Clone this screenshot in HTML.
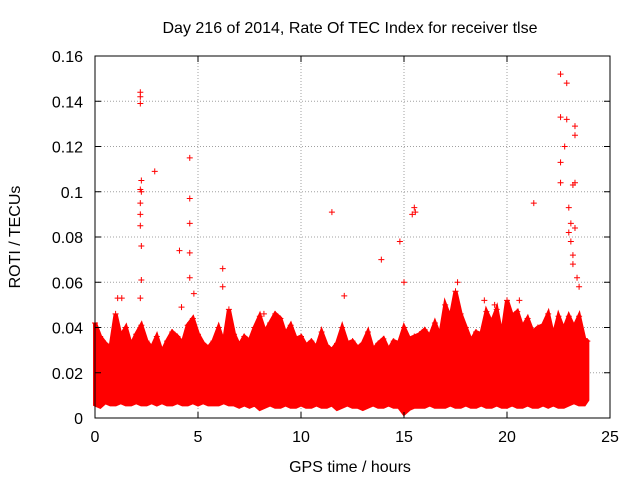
<!DOCTYPE html>
<html><head><meta charset="utf-8"><style>
body{margin:0;background:#fff}
svg{font-family:"Liberation Sans",sans-serif;font-size:16px}
</style></head><body>
<svg id="c" width="640" height="480">
<text x="350" y="33" text-anchor="middle">Day 216 of 2014, Rate Of TEC Index for receiver tlse</text>
<text x="350" y="472" text-anchor="middle">GPS time / hours</text>
<text transform="translate(20,237) rotate(-90)" text-anchor="middle">ROTI / TECUs</text>
<g id="grid"></g><g id="band"></g><g id="pts"></g><g id="axes"></g>
</svg>
<script>
const xTicks=[0,5,10,15,20,25];
const yTicks=[0,0.02,0.04,0.06,0.08,0.1,0.12,0.14,0.16];
const yTickLabels=["0","0.02","0.04","0.06","0.08","0.1","0.12","0.14","0.16"];
const bandHours=[0,0.25,0.5,0.75,1,1.25,1.5,1.75,2,2.25,2.5,2.75,3,3.25,3.5,3.75,4,4.25,4.5,4.75,5,5.25,5.5,5.75,6,6.25,6.5,6.75,7,7.25,7.5,7.75,8,8.25,8.5,8.75,9,9.25,9.5,9.75,10,10.25,10.5,10.75,11,11.25,11.5,11.75,12,12.25,12.5,12.75,13,13.25,13.5,13.75,14,14.25,14.5,14.75,15,15.25,15.5,15.75,16,16.25,16.5,16.75,17,17.25,17.5,17.75,18,18.25,18.5,18.75,19,19.25,19.5,19.75,20,20.25,20.5,20.75,21,21.25,21.5,21.75,22,22.25,22.5,22.75,23,23.25,23.5,23.75,23.9];
const bandUpper=[0.042,0.036,0.033,0.031,0.046,0.036,0.04,0.032,0.037,0.041,0.034,0.031,0.036,0.029,0.034,0.038,0.036,0.033,0.041,0.044,0.037,0.033,0.031,0.034,0.04,0.033,0.048,0.037,0.032,0.036,0.034,0.04,0.045,0.038,0.042,0.046,0.044,0.037,0.041,0.035,0.036,0.032,0.034,0.031,0.038,0.032,0.03,0.033,0.04,0.033,0.034,0.031,0.033,0.038,0.03,0.033,0.035,0.03,0.034,0.033,0.04,0.035,0.036,0.037,0.039,0.036,0.042,0.036,0.05,0.044,0.056,0.046,0.04,0.034,0.038,0.037,0.047,0.042,0.048,0.036,0.052,0.045,0.047,0.04,0.044,0.038,0.04,0.041,0.046,0.036,0.045,0.039,0.045,0.04,0.045,0.035,0.034];
const bandLower=[0.006,0.005,0.007,0.006,0.006,0.007,0.006,0.006,0.007,0.006,0.006,0.007,0.006,0.007,0.006,0.006,0.007,0.006,0.006,0.007,0.006,0.007,0.006,0.006,0.006,0.007,0.006,0.006,0.005,0.006,0.005,0.006,0.004,0.005,0.006,0.005,0.005,0.006,0.005,0.005,0.006,0.005,0.005,0.006,0.005,0.005,0.006,0.004,0.005,0.006,0.005,0.005,0.004,0.005,0.006,0.005,0.005,0.006,0.005,0.005,0.002,0.004,0.005,0.005,0.005,0.006,0.005,0.005,0.005,0.006,0.005,0.005,0.006,0.005,0.005,0.006,0.005,0.005,0.006,0.005,0.005,0.006,0.005,0.005,0.006,0.005,0.005,0.006,0.005,0.006,0.005,0.005,0.006,0.007,0.006,0.006,0.008];
const outlierHours=[2.2,2.2,2.2,2.25,2.2,2.25,2.2,2.2,2.2,2.25,2.25,2.2,2.9,4.6,4.6,4.6,4.6,4.1,4.6,4.8,6.2,6.2,11.5,13.9,14.8,15.5,15.55,15.4,21.3,22.6,22.9,22.6,22.9,23.3,23.3,22.6,22.8,22.6,23.2,23.3,23.0,23.1,23.0,23.1,23.2,23.2,23.4,23.5,23.3,1.1,1.3,12.1,17.6,20.6,4.2,8.2,18.9,19.4,15.0];
const outlierRoti=[0.144,0.142,0.139,0.105,0.101,0.1,0.095,0.09,0.085,0.076,0.061,0.053,0.109,0.115,0.097,0.086,0.073,0.074,0.062,0.055,0.066,0.058,0.091,0.07,0.078,0.093,0.091,0.09,0.095,0.152,0.148,0.133,0.132,0.129,0.125,0.113,0.12,0.104,0.103,0.104,0.093,0.086,0.082,0.078,0.072,0.068,0.062,0.058,0.084,0.053,0.053,0.054,0.06,0.052,0.049,0.046,0.052,0.05,0.06];
const X0=95,X1=610,Y0=418,Y1=56;
const xs=v=>X0+(v-0)/(25-0)*(X1-X0);
const ys=v=>Y0-(v-0)/(0.16-0)*(Y0-Y1);
const NS="http://www.w3.org/2000/svg";
function mk(t,p,a){const e=document.createElementNS(NS,t);for(const k in a)e.setAttribute(k,a[k]);p.appendChild(e);return e;}
const grid=document.getElementById('grid'),axes=document.getElementById('axes');
xTicks.forEach((t,i)=>{
 const x=xs(t);
 if(i>0&&i<xTicks.length-1){const g=mk('line',grid,{x1:x,x2:x,y1:Y0,y2:Y1,stroke:'#a0a0a0','stroke-dasharray':'1,2'});
 
 }
 mk('line',axes,{x1:x,x2:x,y1:Y0,y2:Y0-6,stroke:'#000'});mk('line',axes,{x1:x,x2:x,y1:Y1,y2:Y1+6,stroke:'#000'});
 const l=mk('text',axes,{x:x,y:Y0+24,'text-anchor':'middle'});l.textContent=t;
 
 
});
yTicks.forEach((t,i)=>{
 const y=ys(t);
 if(i>0&&i<yTicks.length-1){const g=mk('line',grid,{x1:X0,x2:X1,y1:y,y2:y,stroke:'#a0a0a0','stroke-dasharray':'1,2'});
 
 }
 mk('line',axes,{x1:X0,x2:X0+6,y1:y,y2:y,stroke:'#000'});mk('line',axes,{x1:X1,x2:X1-6,y1:y,y2:y,stroke:'#000'});
 const l=mk('text',axes,{x:X0-12,y:y+6,'text-anchor':'end'});l.textContent=yTickLabels[i];
 
 
});
const fr=mk('rect',axes,{x:X0,y:Y1,width:X1-X0,height:Y0-Y1,fill:'none',stroke:'#000'});


let d='';
bandHours.forEach((h,i)=>{d+=(i?'L':'M')+xs(h)+','+ys(bandUpper[i]);});
for(let i=bandHours.length-1;i>=0;i--)d+='L'+xs(bandHours[i])+','+ys(bandLower[i]);
const band=mk('path',document.getElementById('band'),{d:d+'Z',fill:'#ff0000',stroke:'#ff0000','stroke-width':4,'stroke-linejoin':'miter'});


const pts=document.getElementById('pts');
outlierHours.forEach((h,i)=>{
 const x=xs(h),y=ys(outlierRoti[i]);
 const p=mk('path',pts,{d:`M${x-3},${y}h6M${x},${y-3}v6`,stroke:'#ff0000','stroke-width':1});
 
 
});
bandHours.forEach((h,i)=>{
 const x=xs(h),y=ys(bandUpper[i]);
 const p=mk('path',pts,{d:`M${x-3},${y}h6M${x},${y-3}v6`,stroke:'#ff0000','stroke-width':1});
 
 
});
</script>
</body></html>
